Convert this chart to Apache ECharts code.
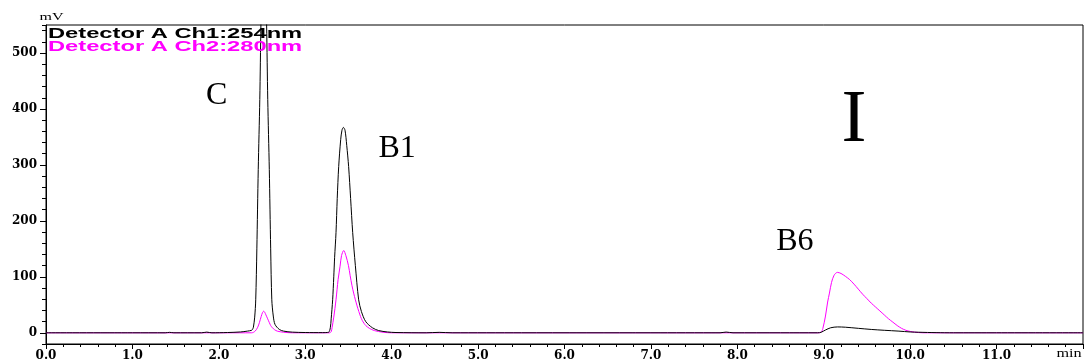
<!DOCTYPE html>
<html>
<head>
<meta charset="utf-8">
<script src="https://cdn.jsdelivr.net/npm/echarts@6/dist/echarts.min.js"></script>
<style>
  html, body { margin: 0; padding: 0; background: #fff; }
  #chart { width: 1085px; height: 364px; }
</style>
</head>
<body>
<div id="chart"></div>
<script>
// ---- Data (time in min, signal in mV) ----
const ch1Points = [ // Detector A Ch1:254nm (black)
  [0, 0], [1.0, 0], [1.38, 0], [1.43, 0.8], [1.48, 0], [1.80, 0], [1.86, 1.2], [1.92, 0],
  [2.10, 0.5], [2.25, 1.5], [2.33, 3], [2.38, 4.5], [2.389, 6], [2.40, 10], [2.415, 28],
  [2.427, 59], [2.44, 150], [2.456, 292], [2.474, 417], [2.487, 550], [2.50, 640], [2.52, 700],
  [2.54, 640], [2.553, 550], [2.566, 417], [2.584, 292], [2.60, 150], [2.613, 59], [2.63, 30],
  [2.65, 15], [2.70, 6], [2.75, 3], [2.85, 1.2], [3.0, 0.5], [3.20, 0.3],
  [3.27, 1], [3.29, 9], [3.30, 25], [3.317, 59], [3.33, 100], [3.34, 135], [3.356, 179],
  [3.37, 240], [3.387, 297], [3.41, 345], [3.425, 362], [3.441, 367], [3.46, 362], [3.48, 335],
  [3.502, 297], [3.525, 240], [3.549, 179], [3.58, 120], [3.618, 59], [3.65, 38], [3.70, 20],
  [3.777, 9], [3.85, 4], [3.95, 1.5], [4.05, 0.5], [4.40, 0], [4.55, 0.8], [4.70, 0],
  [5.5, 0], [7.0, 0], [7.80, 0], [7.87, 1.3], [7.95, 0], [8.5, 0],
  [8.93, 0], [8.97, 1], [9.02, 5], [9.08, 9], [9.16, 10.5], [9.25, 10], [9.40, 8],
  [9.55, 6], [9.70, 4.5], [9.87, 3], [10.0, 1.5], [10.1, 1], [10.3, 0.3], [10.5, 0],
  [11.0, 0], [12.0, 0]
];
const ch2Points = [ // Detector A Ch2:280nm (magenta)
  [0, 0], [2.38, 0], [2.42, 3], [2.45, 10], [2.469, 18], [2.49, 29], [2.505, 36], [2.518, 38.6],
  [2.53, 37], [2.545, 32], [2.565, 25], [2.585, 18], [2.60, 13], [2.62, 9], [2.645, 5.5], [2.676, 3], [2.75, 1], [2.85, 0],
  [3.28, 0], [3.30, 2], [3.31, 9], [3.33, 28], [3.356, 59], [3.38, 95], [3.403, 119], [3.42, 138],
  [3.445, 147], [3.47, 138], [3.50, 120], [3.52, 102], [3.54, 85], [3.56, 71], [3.58, 59], [3.60, 48], [3.62, 38],
  [3.64, 29], [3.66, 22], [3.68, 17], [3.70, 13], [3.742, 8], [3.80, 4], [3.90, 1], [4.0, 0],
  [8.93, 0], [8.97, 1], [8.99, 8], [9.02, 30], [9.045, 55], [9.066, 71], [9.09, 90], [9.12, 103],
  [9.158, 108], [9.20, 106], [9.25, 101], [9.30, 95], [9.35, 87], [9.40, 78], [9.45, 69],
  [9.50, 61], [9.55, 53], [9.60, 46], [9.65, 39], [9.70, 32], [9.75, 25], [9.80, 19],
  [9.85, 13], [9.90, 8], [9.95, 4.5], [10.0, 2.5], [10.05, 1.2], [10.15, 0], [12.0, 0]
];
const yTickValues = [0, 100, 200, 300, 400, 500];
const channelLabels = ['Detector A Ch1:254nm', 'Detector A Ch2:280nm'];
const peakLabels = ['C', 'B1', 'B6'];
const panelLabel = 'I';
const yUnit = 'mV';
const xUnit = 'min';

// ---- Chart ----
const chart = echarts.init(document.getElementById('chart'), null, { renderer: 'canvas' });
const axisFont = { color: '#000', fontFamily: 'DejaVu Serif', fontWeight: 'bold', fontSize: 12 };
const black = '#000';

const option = {
  animation: false,
  backgroundColor: '#fff',
  grid: { left: 46, right: 2, top: 25, bottom: 20, show: true, borderColor: '#000', borderWidth: 1, backgroundColor: 'transparent' },
  xAxis: {
    type: 'value', min: 0, max: 12, interval: 1,
    axisLine: { show: true, onZero: false, lineStyle: { color: black, width: 1 } },
    axisTick: { show: true, length: 5, lineStyle: { color: black, width: 1 } },
    minorTick: { show: true, splitNumber: 5, length: 3, lineStyle: { color: black, width: 1 } },
    splitLine: { show: false },
    axisLabel: Object.assign({ formatter: v => v.toFixed(1), showMaxLabel: false, showMinLabel: true, margin: 6 }, axisFont)
  },
  yAxis: [
    {
      type: 'value', min: -20, max: 550,
      axisLine: { show: true, onZero: false, lineStyle: { color: black, width: 1 } },
      axisTick: { show: true, length: 6, customValues: yTickValues, lineStyle: { color: black, width: 1 } },
      axisLabel: Object.assign({ customValues: yTickValues, margin: 9, formatter: v => String(v) }, axisFont),
      splitLine: { show: false }
    },
    {
      type: 'value', min: -20, max: 550, interval: 20, position: 'left',
      axisLine: { show: false },
      axisTick: { show: true, length: 4, lineStyle: { color: black, width: 1 } },
      axisLabel: { show: false },
      splitLine: { show: false }
    }
  ],
  series: [
    {
      name: channelLabels[1], type: 'line', data: ch2Points, yAxisIndex: 0,
      showSymbol: false, smooth: 0.3, clip: true,
      lineStyle: { color: '#ff00ff', width: 1 }, z: 2
    },
    {
      name: channelLabels[0], type: 'line', data: ch1Points, yAxisIndex: 0,
      showSymbol: false, smooth: 0.3, clip: true,
      lineStyle: { color: '#000', width: 1 }, z: 3
    }
  ],
  graphic: [
    { type: 'text', x: 48, y: 33.4, scaleX: 1.58, z: 100,
      style: { text: channelLabels[0], fontFamily: 'Liberation Sans', fontWeight: 'bold', fontSize: 15, fill: '#000', align: 'left', verticalAlign: 'middle' } },
    { type: 'text', x: 48, y: 46.5, scaleX: 1.58, z: 100,
      style: { text: channelLabels[1], fontFamily: 'Liberation Sans', fontWeight: 'bold', fontSize: 15, fill: '#ff00ff', align: 'left', verticalAlign: 'middle' } },
    { type: 'text', x: 39.5, y: 17.3, scaleX: 1.6, z: 100,
      style: { text: yUnit, fontFamily: 'Liberation Serif', fontSize: 10, fill: '#000', align: 'left', verticalAlign: 'middle' } },
    { type: 'text', x: 1056.5, y: 354.3, scaleX: 1.35, z: 100,
      style: { text: xUnit, fontFamily: 'Liberation Serif', fontSize: 12, fill: '#000', align: 'left', verticalAlign: 'middle' } },
    { type: 'text', x: 206, y: 95.7, z: 100,
      style: { text: peakLabels[0], fontFamily: 'Liberation Serif', fontSize: 32, fill: '#000', align: 'left', verticalAlign: 'middle' } },
    { type: 'text', x: 378.5, y: 148.8, z: 100,
      style: { text: peakLabels[1], fontFamily: 'Liberation Serif', fontSize: 32, fill: '#000', align: 'left', verticalAlign: 'middle' } },
    { type: 'text', x: 776.2, y: 241.3, z: 100,
      style: { text: peakLabels[2], fontFamily: 'Liberation Serif', fontSize: 32, fill: '#000', align: 'left', verticalAlign: 'middle' } },
    { type: 'text', x: 854, y: 121.2, z: 100,
      style: { text: panelLabel, fontFamily: 'Liberation Serif', fontSize: 75, fill: '#000', align: 'center', verticalAlign: 'middle' } }
  ]
};
chart.setOption(option);
</script>
</body>
</html>
